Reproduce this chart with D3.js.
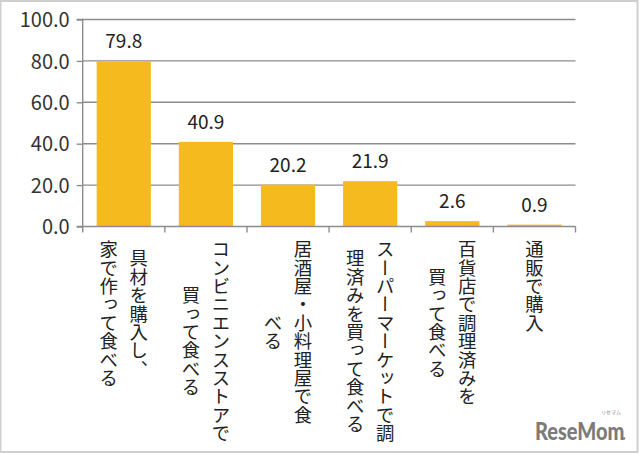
<!DOCTYPE html>
<html><head><meta charset="utf-8">
<script src="https://cdn.jsdelivr.net/npm/d3@7"></script>
<style>html,body{margin:0;padding:0;background:#fff;}svg{display:block;}</style>
</head><body>
<script>
const categories = [
  ["具材を購入し、", "家で作って食べる"],
  ["コンビニエンスストアで", "買って食べる"],
  ["居酒屋・小料理屋で食", "べる"],
  ["スーパーマーケットで調", "理済みを買って食べる"],
  ["百貨店で調理済みを", "買って食べる"],
  ["通販で購入"]
];
const values = [79.8, 40.9, 20.2, 21.9, 2.6, 0.9];
const yTicks = [0, 20, 40, 60, 80, 100];

const W = 640, H = 454;
const svg = d3.select("body").append("svg").attr("width", W).attr("height", H);
const font = "'Noto Sans CJK JP', 'Noto Sans', sans-serif";

// outer frame
svg.append("rect").attr("x", 0.5).attr("y", 1).attr("width", 637).attr("height", 451)
  .attr("fill", "#fff").attr("stroke", "#cfcfcf").attr("stroke-width", 2);

const x0 = 82.7, x1 = 575.5, yTop = 19.5, yBot = 226.5;
const x = d3.scaleBand().domain(d3.range(categories.length)).range([x0, x1]).paddingInner(0.34).paddingOuter(0.17);
const xb = d3.scaleBand().domain(d3.range(categories.length)).range([x0, x1]).padding(0);
const y = d3.scaleLinear().domain([0, 100]).range([yBot, yTop]);

// gridlines
svg.append("g").selectAll("line").data(yTicks.filter(d => d > 0)).join("line")
  .attr("x1", x0).attr("x2", x1).attr("y1", d => y(d)).attr("y2", d => y(d))
  .attr("stroke", "#8c8c8c").attr("stroke-width", 1.4);

// y axis
const yAxis = svg.append("g").attr("transform", `translate(${x0},0)`)
  .call(d3.axisLeft(y).tickValues(yTicks).tickFormat(d3.format(".1f")).tickSize(6).tickPadding(7));
yAxis.select(".domain").attr("stroke", "#8c8c8c").attr("stroke-width", 1.4).attr("d", `M-6,${yTop}H0V${yBot}H-6`);
yAxis.selectAll(".tick line").attr("stroke", "#8c8c8c").attr("stroke-width", 1.4);
yAxis.selectAll(".tick text").attr("font-family", font).attr("font-size", 20).attr("fill", "#333").attr("dy", "0.36em");

// bars
svg.append("g").selectAll("rect").data(values).join("rect")
  .attr("x", (d, i) => x(i)).attr("width", x.bandwidth())
  .attr("y", d => y(d)).attr("height", d => yBot - y(d))
  .attr("fill", "#F5BA1E");

// x axis line and ticks
const bounds = d3.range(categories.length + 1).map(i => x0 + i * xb.step());
svg.append("line").attr("x1", x0).attr("x2", x1).attr("y1", yBot).attr("y2", yBot)
  .attr("stroke", "#8c8c8c").attr("stroke-width", 1.4);
svg.append("g").selectAll("line").data(bounds).join("line")
  .attr("x1", d => d).attr("x2", d => d).attr("y1", yBot).attr("y2", yBot + 6)
  .attr("stroke", "#8c8c8c").attr("stroke-width", 1.4);

// value labels
svg.append("g").selectAll("text").data(values).join("text")
  .attr("x", (d, i) => x(i) + x.bandwidth() / 2).attr("y", d => y(d) - 13)
  .attr("text-anchor", "middle").attr("font-family", font).attr("font-size", 19)
  .attr("fill", "#222").text(d => d3.format(".1f")(d));

// category labels (vertical)
const fs = 18.4, colGap = 30, blockTop = 240;
categories.forEach((lines, i) => {
  const cx = xb(i) + xb.bandwidth() / 2;
  const n = lines.length;
  const maxLen = d3.max(lines, l => l.length);
  const cy = blockTop + maxLen * fs / 2;
  lines.forEach((t, j) => {
    const lx = cx + ((n - 1) / 2 - j) * colGap;
    svg.append("text").attr("x", lx).attr("y", cy)
      .style("writing-mode", "vertical-rl")
      .attr("text-anchor", "middle").attr("font-family", font).attr("font-size", fs)
      .attr("fill", "#222").text(t);
  });
});

// logo
svg.append("g").attr("transform", "translate(535,440) scale(0.8,1)")
  .append("text").attr("x", 0).attr("y", 0).attr("font-family", "Lato, 'Open Sans', sans-serif")
  .attr("font-weight", 900).attr("font-size", 25).attr("fill", "#7b7b7b").text("ReseMom");
svg.append("circle").attr("cx", 624).attr("cy", 438.5).attr("r", 1.3).attr("fill", "#7b7b7b");
svg.append("text").attr("x", 611).attr("y", 414).attr("text-anchor", "middle").attr("font-family", font).attr("font-size", 5).attr("fill", "#888").text("リセマム");
</script>
</body></html>
